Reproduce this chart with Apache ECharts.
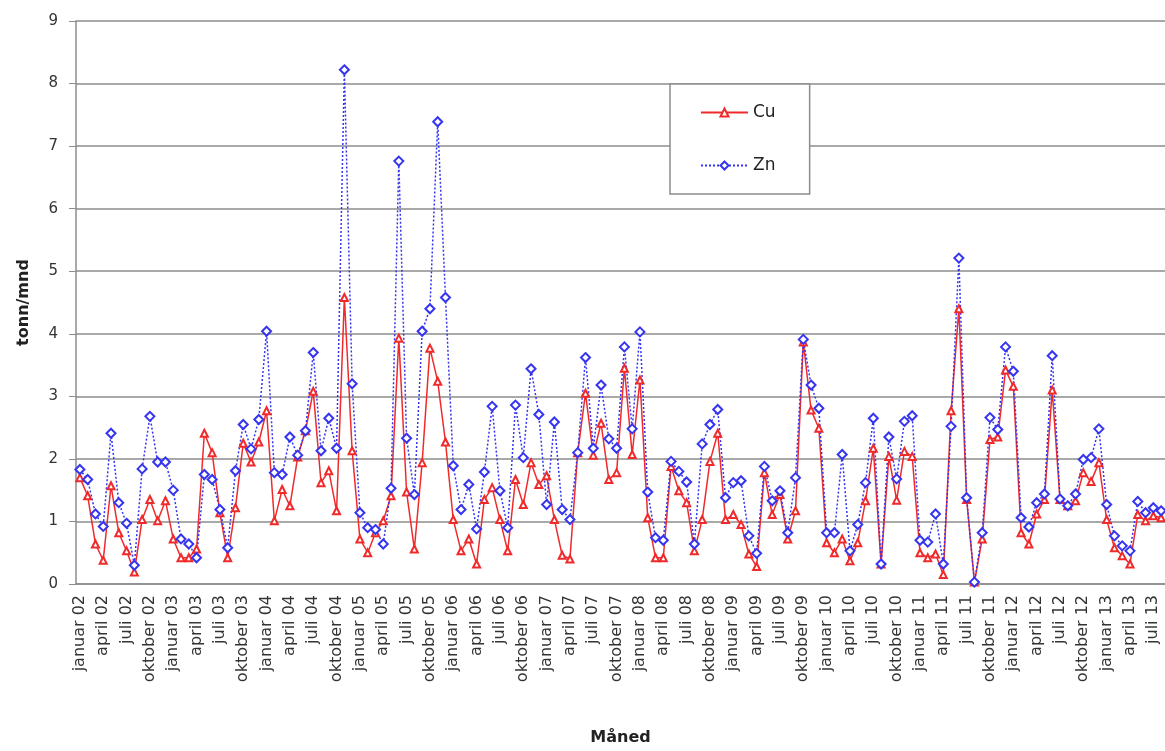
<!DOCTYPE html>
<html>
<head>
<meta charset="utf-8">
<title>Cu og Zn - tonn/mnd</title>
<script src="https://cdn.jsdelivr.net/npm/echarts@6/dist/echarts.min.js"></script>
<style>
html, body { margin: 0; padding: 0; background: #fff; }
#main { width: 1165px; height: 751px; }
</style>
</head>
<body>
<div id="main"></div>
<script>
// maaneder og aar for kategoriaksen
var maaneder = ['januar', 'februar', 'mars', 'april', 'mai', 'juni', 'juli',
	'august', 'september', 'oktober', 'november', 'desember'];
var aar = ['02', '03', '04', '05', '06', '07', '08', '09', '10', '11', '12', '13'];
var antallMnd = 140; // januar 02 - august 13

var yTicks = [0, 1, 2, 3, 4, 5, 6, 7, 8, 9];

// Cu, tonn/mnd
var cuVerdier = [
	1.70, 1.41, 0.64, 0.38, 1.57, 0.82, 0.53, 0.19, 1.03, 1.35, 1.01, 1.33,
	0.72, 0.42, 0.42, 0.56, 2.41, 2.10, 1.14, 0.42, 1.22, 2.25, 1.95, 2.27,
	2.77, 1.01, 1.51, 1.25, 2.03, 2.45, 3.08, 1.62, 1.81, 1.17, 4.58, 2.13,
	0.72, 0.50, 0.82, 1.01, 1.41, 3.93, 1.47, 0.56, 1.94, 3.77, 3.24, 2.27,
	1.03, 0.53, 0.72, 0.32, 1.35, 1.54, 1.03, 0.53, 1.67, 1.27, 1.94, 1.59,
	1.73, 1.03, 0.46, 0.40, 2.10, 3.05, 2.06, 2.57, 1.67, 1.78, 3.45, 2.07,
	3.26, 1.06, 0.42, 0.42, 1.88, 1.49, 1.30, 0.53, 1.03, 1.96, 2.41, 1.03,
	1.11, 0.95, 0.48, 0.28, 1.78, 1.11, 1.43, 0.72, 1.17, 3.87, 2.78, 2.49,
	0.66, 0.50, 0.72, 0.37, 0.66, 1.33, 2.17, 0.32, 2.04, 1.34, 2.12, 2.04,
	0.50, 0.42, 0.48, 0.15, 2.77, 4.40, 1.35, 0.03, 0.72, 2.31, 2.35, 3.42,
	3.16, 0.82, 0.64, 1.12, 1.35, 3.10, 1.35, 1.25, 1.33, 1.78, 1.64, 1.94,
	1.03, 0.58, 0.45, 0.32, 1.11, 1.01, 1.09, 1.06
];

// Zn, tonn/mnd
var znVerdier = [
	1.83, 1.67, 1.12, 0.92, 2.41, 1.30, 0.97, 0.30, 1.84, 2.68, 1.95, 1.95,
	1.50, 0.72, 0.64, 0.42, 1.75, 1.67, 1.19, 0.58, 1.81, 2.55, 2.16, 2.63,
	4.04, 1.78, 1.75, 2.35, 2.06, 2.45, 3.70, 2.13, 2.65, 2.17, 8.22, 3.20,
	1.14, 0.90, 0.87, 0.64, 1.53, 6.76, 2.33, 1.43, 4.04, 4.40, 7.39, 4.58,
	1.89, 1.19, 1.59, 0.88, 1.79, 2.84, 1.49, 0.90, 2.86, 2.02, 3.44, 2.71,
	1.27, 2.59, 1.19, 1.03, 2.10, 3.62, 2.17, 3.18, 2.32, 2.17, 3.79, 2.48,
	4.03, 1.47, 0.74, 0.70, 1.96, 1.80, 1.63, 0.64, 2.24, 2.55, 2.79, 1.38,
	1.62, 1.65, 0.77, 0.49, 1.88, 1.33, 1.49, 0.82, 1.70, 3.91, 3.18, 2.81,
	0.82, 0.82, 2.07, 0.53, 0.95, 1.62, 2.65, 0.32, 2.35, 1.68, 2.60, 2.69,
	0.70, 0.67, 1.12, 0.32, 2.52, 5.21, 1.38, 0.03, 0.82, 2.66, 2.47, 3.79,
	3.40, 1.06, 0.91, 1.30, 1.44, 3.65, 1.36, 1.25, 1.44, 1.99, 2.02, 2.48,
	1.27, 0.77, 0.61, 0.53, 1.32, 1.14, 1.22, 1.17
];

var kategorier = [];
for (var i = 0; i < antallMnd; i++) {
	kategorier.push(maaneder[i % 12] + ' ' + aar[Math.floor(i / 12)]);
}

var tekstFont = 'DejaVu Sans';

var option = {
	backgroundColor: '#fff',
	animation: false,
	grid: {
		left: 76,
		right: 0,
		top: 21,
		bottom: 164
	},
	legend: {
		data: ['Cu', 'Zn'],
		orient: 'vertical',
		left: 670,
		top: 84,
		selectedMode: false,
		backgroundColor: '#fff',
		borderColor: '#8c8c8c',
		borderWidth: 1.5,
		padding: [20, 34, 20, 30],
		itemGap: 36,
		itemWidth: 47,
		itemHeight: 10,
		textStyle: {
			fontFamily: tekstFont,
			fontSize: 17,
			color: '#222'
		}
	},
	xAxis: {
		type: 'category',
		data: kategorier,
		boundaryGap: true,
		name: 'Måned',
		nameLocation: 'middle',
		nameGap: 146,
		nameTextStyle: {
			fontFamily: tekstFont,
			fontSize: 16,
			fontWeight: 'bold',
			color: '#222'
		},
		axisLine: { lineStyle: { color: '#8c8c8c', width: 1.5 } },
		axisTick: {
			interval: 2,
			length: 5,
			lineStyle: { color: '#8c8c8c' }
		},
		axisLabel: {
			interval: 2,
			rotate: 90,
			margin: 11,
			fontFamily: tekstFont,
			fontSize: 16,
			color: '#333'
		},
		splitLine: { show: false }
	},
	yAxis: {
		type: 'value',
		min: 0,
		max: 9,
		interval: 1,
		name: 'tonn/mnd',
		nameLocation: 'middle',
		nameGap: 44,
		nameTextStyle: {
			fontFamily: tekstFont,
			fontSize: 16,
			fontWeight: 'bold',
			color: '#222'
		},
		axisLine: { show: true, lineStyle: { color: '#8c8c8c', width: 1.5 } },
		axisTick: { show: true, length: 7, lineStyle: { color: '#8c8c8c' } },
		axisLabel: {
			margin: 18,
			fontFamily: tekstFont,
			fontSize: 15,
			color: '#333',
			formatter: function(v) {
				return yTicks.indexOf(v) >= 0 ? String(v) : '';
			}
		},
		splitLine: { lineStyle: { color: '#8c8c8c', width: 1.5 } }
	},
	series: [
		{
			name: 'Cu',
			type: 'line',
			data: cuVerdier,
			symbol: 'emptyTriangle',
			symbolSize: 7,
			showAllSymbol: true,
			color: '#f02a2a',
			lineStyle: { color: '#f02a2a', width: 1.5 },
			itemStyle: { color: '#f02a2a', borderWidth: 1.3 }
		},
		{
			name: 'Zn',
			type: 'line',
			data: znVerdier,
			symbol: 'emptyDiamond',
			symbolSize: 9,
			showAllSymbol: true,
			color: '#3535f0',
			lineStyle: { color: '#3535f0', width: 1.5, type: [2, 2] },
			itemStyle: { color: '#3535f0', borderWidth: 1.3 }
		}
	]
};

var myChart = echarts.init(document.getElementById('main'));
myChart.setOption(option);
</script>
</body>
</html>
